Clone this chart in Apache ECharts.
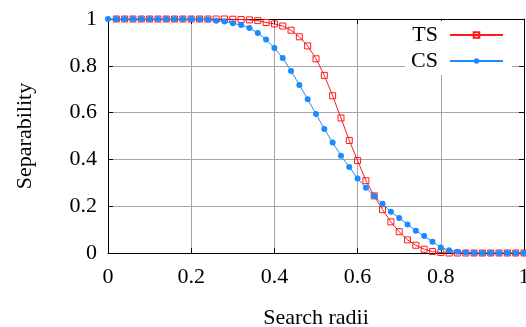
<!DOCTYPE html>
<html>
<head>
<meta charset="utf-8">
<script src="https://cdn.jsdelivr.net/npm/echarts@6/dist/echarts.min.js"></script>
<style>
html,body{margin:0;padding:0;background:#fff;}
#c{width:526px;height:327px;}
</style>
</head>
<body>
<div id="c"></div>
<script>
// Search radii (x)
const radiiTS = [0.02,0.04,0.06,0.08,0.10,0.12,0.14,0.16,0.18,0.20,0.22,0.24,0.26,0.28,0.30,0.32,0.34,0.36,0.38,0.40,0.42,0.44,0.46,0.48,0.50,0.52,0.54,0.56,0.58,0.60,0.62,0.64,0.66,0.68,0.70,0.72,0.74,0.76,0.78,0.80,0.82,0.84,0.86,0.88,0.90,0.92,0.94,0.96,0.98,1.00];
const valuesTS = [1,1,1,1,1,1,1,1,1,1,1,1,1,1,0.999,0.998,0.996,0.993,0.985,0.979,0.970,0.952,0.924,0.885,0.830,0.759,0.672,0.577,0.481,0.395,0.309,0.244,0.185,0.133,0.091,0.056,0.033,0.016,0.006,0.002,0,0,0,0,0,0,0,0,0,0];
const radiiCS = [0,0.02,0.04,0.06,0.08,0.10,0.12,0.14,0.16,0.18,0.20,0.22,0.24,0.26,0.28,0.30,0.32,0.34,0.36,0.38,0.40,0.42,0.44,0.46,0.48,0.50,0.52,0.54,0.56,0.58,0.60,0.62,0.64,0.66,0.68,0.70,0.72,0.74,0.76,0.78,0.80,0.82,0.84,0.86,0.88,0.90,0.92,0.94,0.96,0.98,1.00];
const valuesCS = [1,1,1,1,1,1,1,1,1,1,1,0.999,0.998,0.993,0.989,0.982,0.974,0.962,0.940,0.912,0.876,0.833,0.778,0.718,0.657,0.594,0.530,0.472,0.416,0.368,0.318,0.279,0.244,0.210,0.176,0.150,0.122,0.095,0.073,0.048,0.024,0.012,0.005,0.002,0,0,0,0,0,0,0];
const xTicks = [0,0.2,0.4,0.6,0.8,1];
const seriesNames = ['TS','CS'];

const FONT = 'Liberation Serif';
const RED = '#ff1a1a';
const BLUE = '#1a8cff';

const chart = echarts.init(document.getElementById('c'), null, {renderer:'canvas'});
const axisCommon = {
  type:'value', min:0, max:1, interval:0.2,
  axisLine:{show:true, onZero:false, lineStyle:{color:'#000', width:1}},
  axisTick:{show:true, inside:true, length:5, lineStyle:{color:'#000', width:1}}
};
chart.setOption({
  animation:false,
  backgroundColor:'#fff',
  grid:{left:108, right:2, top:19, bottom:74, containLabel:false, outerBoundsMode:'none'},
  legend:{
    orient:'vertical', right:14, top:21, align:'right',
    backgroundColor:'#fff', padding:[3,8,3,6], itemGap:4,
    itemWidth:53, itemHeight:7,
    textStyle:{fontFamily:FONT, fontSize:22, color:'#000', padding:[0,7,0,0]},
    data:seriesNames
  },
  xAxis:[
    Object.assign({}, axisCommon, {
      position:'bottom',
      axisLabel:{fontFamily:FONT, fontSize:22, color:'#000', margin:13,
        formatter: v => xTicks.includes(+v.toFixed(1)) ? String(+v.toFixed(1)) : ''},
      splitLine:{show:true, lineStyle:{color:'#a6a6a6', width:1}},
      name:'Search radii', nameLocation:'middle', nameGap:54,
      nameTextStyle:{fontFamily:FONT, fontSize:22, color:'#000'}
    }),
    Object.assign({}, axisCommon, {position:'top', axisLabel:{show:false}, splitLine:{show:false}})
  ],
  yAxis:[
    Object.assign({}, axisCommon, {
      position:'left',
      axisLabel:{fontFamily:FONT, fontSize:22, color:'#000', margin:11},
      splitLine:{show:true, lineStyle:{color:'#a6a6a6', width:1}},
      name:'Separability', nameLocation:'middle', nameGap:72,
      nameTextStyle:{fontFamily:FONT, fontSize:22, color:'#000'}
    }),
    Object.assign({}, axisCommon, {position:'right', axisLabel:{show:false}, splitLine:{show:false}})
  ],
  series:[
    {
      name:'TS', type:'line', xAxisIndex:0, yAxisIndex:0,
      data: radiiTS.map((x,i)=>[x, valuesTS[i]]),
      symbol:'rect', symbolSize:6, showSymbol:true,
      lineStyle:{color:RED, width:1},
      itemStyle:{color:'rgba(255,255,255,0)', borderColor:RED, borderWidth:1},
      z:2
    },
    {
      name:'CS', type:'line', xAxisIndex:0, yAxisIndex:0,
      data: radiiCS.map((x,i)=>[x, valuesCS[i]]),
      symbol:'circle', symbolSize:6, showSymbol:true,
      lineStyle:{color:BLUE, width:1},
      itemStyle:{color:BLUE, borderColor:BLUE, borderWidth:0},
      z:3
    }
  ]
});
</script>
</body>
</html>
